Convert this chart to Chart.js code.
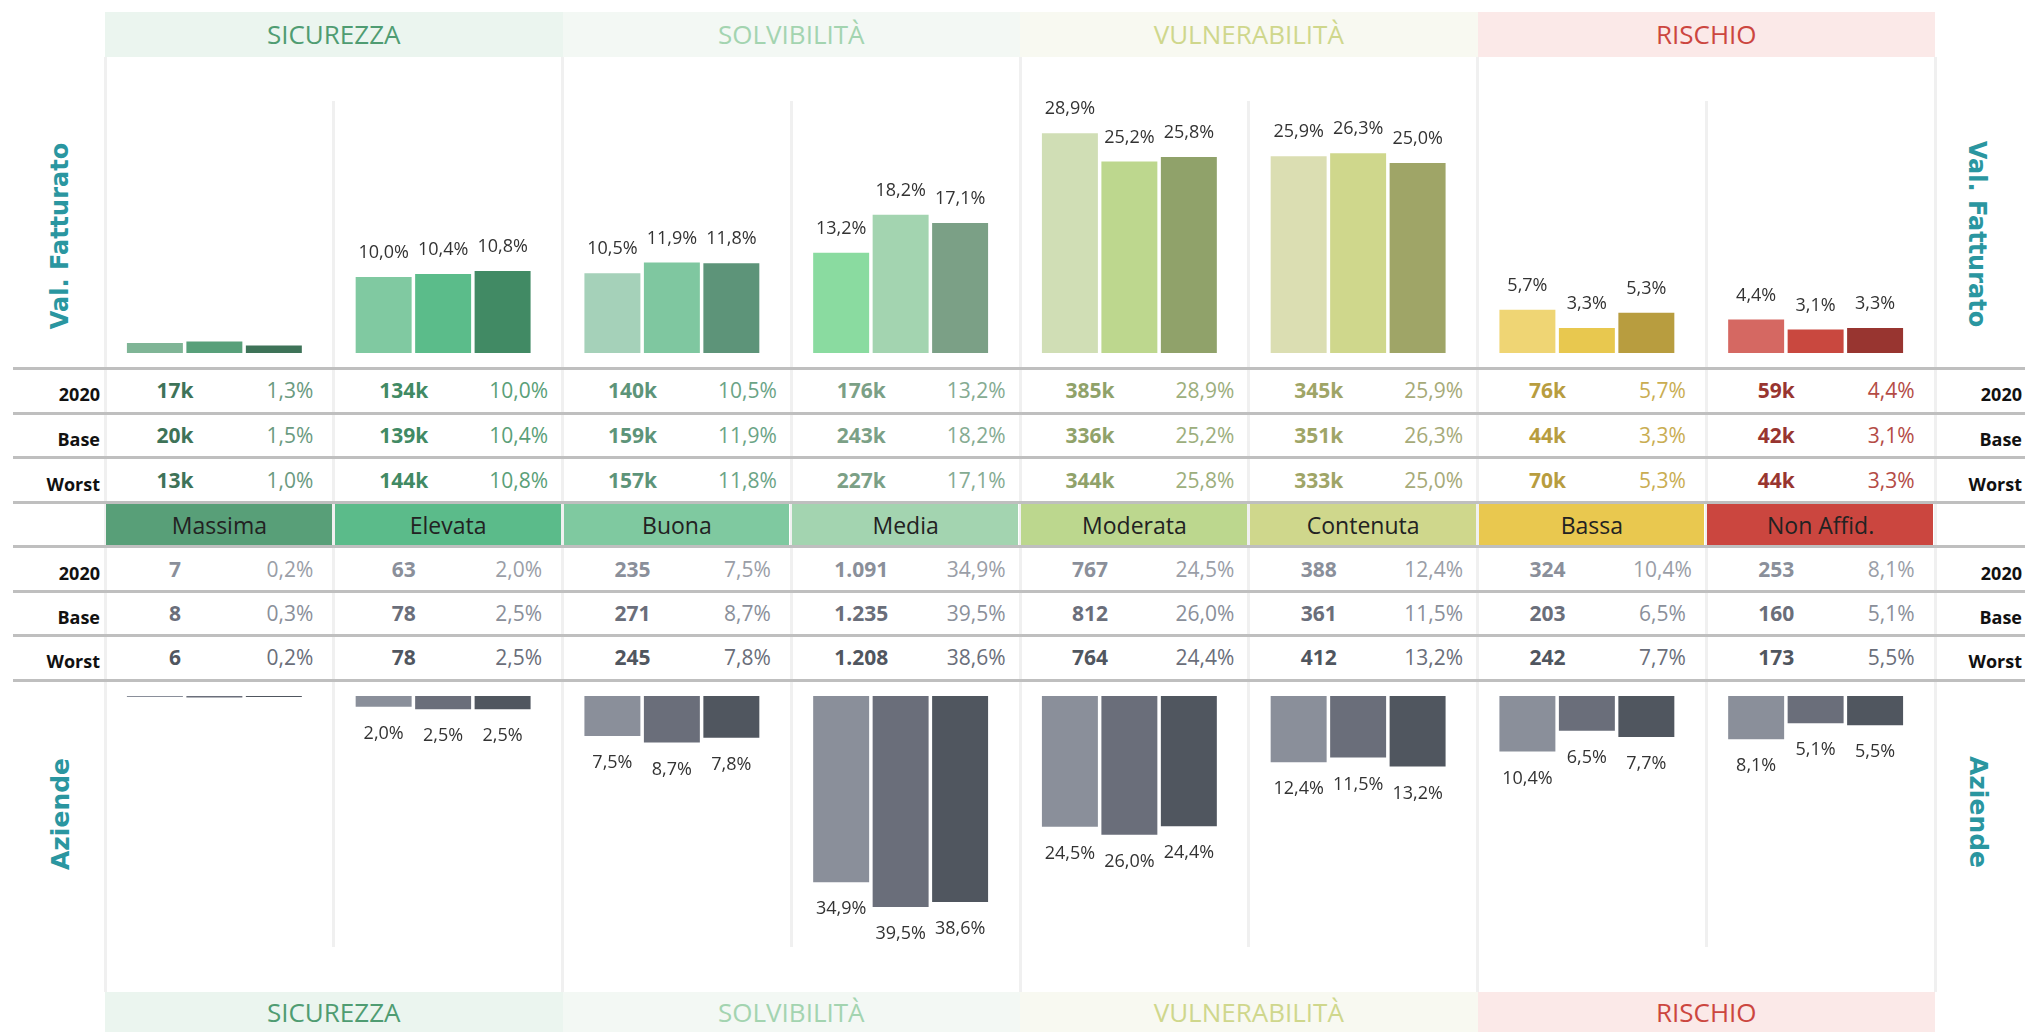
<!DOCTYPE html>
<html>
<head>
<meta charset="utf-8">
<script src="https://cdn.jsdelivr.net/npm/chart.js@4.4.1/dist/chart.umd.min.js"></script>
<style>
  html, body { margin: 0; padding: 0; background: #fff; }
  body { width: 2025px; height: 1032px; position: relative; overflow: hidden; font-family: "Open Sans", sans-serif; }
  .abs { position: absolute; }
  .txt { position: absolute; white-space: nowrap; text-align: center; }
  .side { position: absolute; white-space: nowrap; font-family: "DejaVu Sans", sans-serif; font-weight: bold;
          font-size: 25px; color: #2a96a0;
          transform: translate(-50%, -50%) rotate(-90deg); }
  .side.r { transform: translate(-50%, -50%) rotate(90deg); }
</style>
</head>
<body>
<div id="stage"></div>
<canvas id="top-chart" class="abs" width="1830" height="296" style="left:100px;top:57px;width:1830px;height:296px"></canvas>
<canvas id="bottom-chart" class="abs" width="1830" height="267" style="left:100px;top:696px;width:1830px;height:267px"></canvas>
<script>
// categorie e gruppi
const categories = ["Massima", "Elevata", "Buona", "Media", "Moderata", "Contenuta", "Bassa", "Non Affid."];
const groups = ["SICUREZZA", "SOLVIBILITÀ", "VULNERABILITÀ", "RISCHIO"];
const scenarios = ["2020", "Base", "Worst"];

// valore fatturato (k) e quota %
const fattK2020 = [17, 134, 140, 176, 385, 345, 76, 59];
const fattKBase = [20, 139, 159, 243, 336, 351, 44, 42];
const fattKWorst = [13, 144, 157, 227, 344, 333, 70, 44];
const fattPct2020 = [1.3, 10.0, 10.5, 13.2, 28.9, 25.9, 5.7, 4.4];
const fattPctBase = [1.5, 10.4, 11.9, 18.2, 25.2, 26.3, 3.3, 3.1];
const fattPctWorst = [1.0, 10.8, 11.8, 17.1, 25.8, 25.0, 5.3, 3.3];

// numero aziende e quota %
const az2020 = [7, 63, 235, 1091, 767, 388, 324, 253];
const azBase = [8, 78, 271, 1235, 812, 361, 203, 160];
const azWorst = [6, 78, 245, 1208, 764, 412, 242, 173];
const azPct2020 = [0.2, 2.0, 7.5, 34.9, 24.5, 12.4, 10.4, 8.1];
const azPctBase = [0.3, 2.5, 8.7, 39.5, 26.0, 11.5, 6.5, 5.1];
const azPctWorst = [0.2, 2.5, 7.8, 38.6, 24.4, 13.2, 7.7, 5.5];

// colori
const catColors = ["#589f78", "#5bbb8a", "#7fc9a0", "#a3d4b0", "#bcd78e", "#cfd78c", "#e9c84f", "#cb463f"];
const fattColors2020 = ["#7fb596", "#80c9a1", "#a5d1b9", "#8adba0", "#d0deb5", "#dbdeb2", "#efd574", "#d56862"];
const fattColorsBase = ["#58a07a", "#5bbc8a", "#7fc7a0", "#a3d4b0", "#bdd78e", "#cfd78c", "#e8c84f", "#c9483f"];
const fattColorsWorst = ["#3e7358", "#418a64", "#5d9479", "#7ba086", "#90a26a", "#9fa567", "#b89d3f", "#983530"];
const fattTextPct = ["#6a9a80", "#5a9f78", "#6ba486", "#85ab92", "#9cae7c", "#a6aa78", "#c9ad52", "#b44b45"];
const azColors = ["#8a8f9a", "#6a6e7a", "#50565f"];
const azTextPct = ["#9a9ea7", "#8a8f9a", "#6a6e7a"];
const groupText = ["#4f9c72", "#a3d4b0", "#cfd78c", "#cc463f"];
const groupBg = ["#ebf5ef", "#f3f8f4", "#f8f9f1", "#fbe9e8"];

const fmtPct = v => v.toFixed(1).replace(".", ",") + "%";
const fmtInt = v => String(v).replace(/\B(?=(\d{3})+(?!\d))/g, ".");

// griglia della pagina
const X0 = 105, COLW = 228.75;
const stage = document.getElementById("stage");
function box(l, t, w, h, bg) {
  const d = document.createElement("div");
  d.className = "abs";
  d.style.cssText = `left:${l}px;top:${t}px;width:${w}px;height:${h}px;background:${bg}`;
  stage.appendChild(d);
}
function text(s, cx, cy, w, css) {
  const d = document.createElement("div");
  d.className = "txt";
  d.textContent = s;
  d.style.cssText = `left:${cx - w / 2}px;top:${cy - 20}px;width:${w}px;height:40px;line-height:40px;` + css;
  stage.appendChild(d);
}

// fasce dei gruppi (sopra e sotto)
groups.forEach((g, i) => {
  const l = X0 + i * 2 * COLW;
  box(l, 12, 2 * COLW, 45, groupBg[i]);
  box(l, 992, 2 * COLW, 40, groupBg[i]);
  text(g, l + COLW, 34, 2 * COLW, `font-size:26px;color:${groupText[i]}`);
  text(g, l + COLW, 1012, 2 * COLW, `font-size:26px;color:${groupText[i]}`);
});

// separatori verticali
for (let i = 0; i <= 8; i++) {
  const x = X0 + i * COLW - 1.5;
  if (i % 2 === 0) box(x, 57, 3, 935, "#f0f0f0");
  else box(x, 101, 3, 846, "#f0f0f0");
}

// categorie
categories.forEach((c, i) => {
  const l = X0 + i * COLW;
  box(l + 1, 504, COLW - 3, 41, catColors[i]);
  text(c, l + COLW / 2, 525, COLW, "font-size:23px;color:#222");
});

// righe tabella
const topRows = [[fattK2020, fattPct2020], [fattKBase, fattPctBase], [fattKWorst, fattPctWorst]];
const botRows = [[az2020, azPct2020], [azBase, azPctBase], [azWorst, azPctWorst]];
const topY = [390, 435, 479.5];
const botY = [568.5, 613, 657];
scenarios.forEach((s, r) => {
  [topY[r], botY[r]].forEach(y => {
    const lab = document.createElement("div");
    lab.className = "txt";
    lab.textContent = s;
    lab.style.cssText = `left:0;top:${y + 4 - 20}px;width:100px;height:40px;line-height:40px;text-align:right;font-size:18px;font-weight:bold;color:#111`;
    stage.appendChild(lab);
    const labR = lab.cloneNode(true);
    labR.style.left = "1922px";
    stage.appendChild(labR);
  });
  categories.forEach((c, i) => {
    const l = X0 + i * COLW;
    text(topRows[r][0][i] + "k", l + 70, topY[r], 110, `font-size:21px;font-weight:bold;color:${fattColorsWorst[i]}`);
    text(fmtPct(topRows[r][1][i]), l + 185, topY[r], 110, `font-size:21px;color:${fattTextPct[i]}`);
    text(fmtInt(botRows[r][0][i]), l + 70, botY[r], 110, `font-size:21px;font-weight:bold;color:${azColors[r]}`);
    text(fmtPct(botRows[r][1][i]), l + 185, botY[r], 110, `font-size:21px;color:${azTextPct[r]}`);
  });
});

// linee orizzontali
[368, 413, 457, 502.5, 546.5, 591, 635, 680].forEach(y => box(13, y - 1.5, 2012, 3, "#bfbfbf"));

// etichette laterali
function side(s, cx, cy, right, size) {
  const d = document.createElement("div");
  d.className = "side" + (right ? " r" : "");
  d.textContent = s;
  d.style.left = cx + "px";
  d.style.top = cy + "px";
  d.style.fontSize = size + "px";
  stage.appendChild(d);
}
side("Val. Fatturato", 60, 236, false, 24);
side("Val. Fatturato", 1977, 234, true, 24);
side("Aziende", 60, 814, false, 25);
side("Aziende", 1978, 812, true, 25);

// etichette sopra/sotto le barre
const valueLabels = {
  id: "valueLabels",
  afterDatasetsDraw(chart, args, opts) {
    const ctx = chart.ctx;
    ctx.save();
    ctx.font = '18px "Open Sans"';
    ctx.fillStyle = "#333";
    ctx.textAlign = "center";
    ctx.textBaseline = "middle";
    chart.data.datasets.forEach((ds, i) => {
      chart.getDatasetMeta(i).data.forEach((bar, j) => {
        const v = ds.data[j];
        if (v < 2) return;
        ctx.fillText(fmtPct(v), bar.x, bar.y + opts.offset);
      });
    });
    ctx.restore();
  }
};

function makeChart(id, sets, colors, yOpts, offset) {
  return new Chart(document.getElementById(id), {
    type: "bar",
    data: {
      labels: categories,
      datasets: sets.map((d, k) => ({
        label: scenarios[k],
        data: d,
        backgroundColor: colors[k],
        borderWidth: 0,
        categoryPercentage: 0.78,
        barPercentage: 0.941
      }))
    },
    options: {
      responsive: false,
      animation: false,
      devicePixelRatio: 1,
      layout: { padding: 0 },
      plugins: { legend: { display: false }, tooltip: { enabled: false }, valueLabels: { offset: offset } },
      scales: {
        x: { display: false },
        y: Object.assign({ display: false, min: 0 }, yOpts)
      }
    },
    plugins: [valueLabels]
  });
}

makeChart("top-chart", [fattPct2020, fattPctBase, fattPctWorst],
  [fattColors2020, fattColorsBase, fattColorsWorst], { max: 38.95 }, -24);
makeChart("bottom-chart", [azPct2020, azPctBase, azPctWorst],
  [azColors[0], azColors[1], azColors[2]], { max: 50, reverse: true }, 27);
</script>
</body>
</html>
